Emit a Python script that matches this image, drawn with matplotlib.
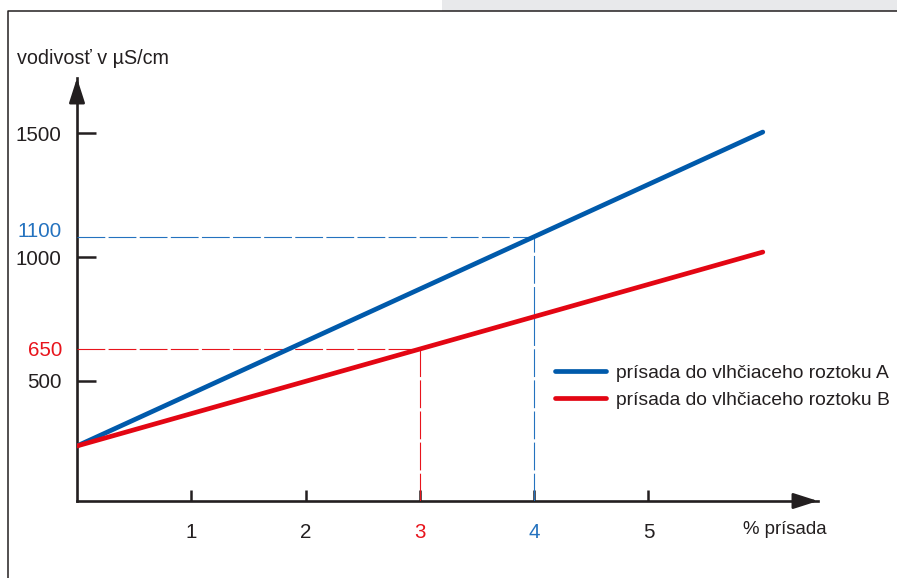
import numpy as np
import matplotlib.pyplot as plt
import matplotlib.patches as patches
import matplotlib.lines as mlines

plt.rcParams['font.family'] = ['Liberation Sans', 'DejaVu Sans']

# data
additive_pct = [0, 6]
series_a = [238, 1504]   # prísada do vlhčiaceho roztoku A
series_b = [238, 1020]   # prísada do vlhčiaceho roztoku B
series_names = ['prísada do vlhčiaceho roztoku A', 'prísada do vlhčiaceho roztoku B']

x_ticks = [1, 2, 3, 4, 5]
y_ticks = [500, 1000, 1500]

# marked readings: x position and the label shown on the y axis
mark_x = [4, 3]
mark_labels = ['1100', '650']

dark = '#231f20'
blue = '#005aab'
red = '#e30613'
blue_light = '#2472bf'
red_light = '#e8141c'

fig = plt.figure(figsize=(8.97, 5.78), dpi=100)

# page frame and grey strip
fig.add_artist(patches.Rectangle((442 / 897, 1 - 11 / 578), 1 - 442 / 897, 11 / 578,
                                 transform=fig.transFigure, facecolor='#e8e9eb',
                                 edgecolor='none'))
fig.add_artist(mlines.Line2D([8 / 897, 8 / 897, 1], [0, 1 - 11 / 578, 1 - 11 / 578],
                             transform=fig.transFigure, color=dark, lw=1.1))

ax = fig.add_axes([77 / 897, 77 / 578, 741 / 897, 423 / 578])
ax.set_xlim(0, 6.483)
ax.set_ylim(16, 1722)

for s in ['top', 'right']:
    ax.spines[s].set_visible(False)
for s in ['left', 'bottom']:
    ax.spines[s].set_color(dark)
    ax.spines[s].set_linewidth(1.9)

# arrow heads on the axes
for tip, tail in [((1, 0), (0.97, 0)), ((0, 1), (0, 0.96))]:
    ax.annotate('', xy=tip, xytext=tail, xycoords='axes fraction',
                arrowprops=dict(arrowstyle='-|>,head_length=0.75,head_width=0.24',
                                mutation_scale=20, color=dark, lw=1.9,
                                shrinkA=0, shrinkB=0), annotation_clip=False)

ax.set_xticks(x_ticks)
ax.set_xticklabels([str(t) for t in x_ticks])
ax.set_yticks(y_ticks)
ax.set_yticklabels([str(t) for t in y_ticks])
ax.tick_params(axis='y', direction='in', length=14, width=1.8, color=dark,
               labelsize=14.8, labelcolor=dark, pad=11)
ax.tick_params(axis='x', direction='in', length=8, width=1.8, color=dark,
               labelsize=14.8, labelcolor=dark, pad=16)

# colour the marked x tick labels
for lbl in ax.get_xticklabels():
    if lbl.get_text() == str(mark_x[0]):
        lbl.set_color(blue_light)
    elif lbl.get_text() == str(mark_x[1]):
        lbl.set_color(red_light)

# main lines
ax.plot(additive_pct, series_a, color=blue, lw=3.4, solid_capstyle='round',
        label=series_names[0], zorder=4)
ax.plot(additive_pct, series_b, color=red, lw=3.4, solid_capstyle='round',
        label=series_names[1], zorder=4)

# dashed reading guides
for series, xm, txt, col, dy in [(series_a, mark_x[0], mark_labels[0], blue_light, 22),
                                 (series_b, mark_x[1], mark_labels[1], red_light, -6)]:
    ym = np.interp(xm, additive_pct, series)
    ax.plot([0, xm], [ym, ym], color=col, lw=0.8, dashes=(25, 3), zorder=3)
    ax.plot([xm, xm], [16, ym], color=col, lw=0.8, dashes=(25, 3), zorder=3)
    ax.text(-0.13, ym + dy, txt, color=col, fontsize=14.8, ha='right', va='center',
            transform=ax.transData, clip_on=False)

# axis titles
fig.text(17 / 897, 1 - 58 / 578, 'vodivosť v µS/cm', fontsize=14.2, color=dark,
         ha='left', va='center')
fig.text(827 / 897, 1 - 530 / 578, '% prísada', fontsize=13.4, color=dark,
         ha='right', va='center')

leg = ax.legend(loc='upper left', bbox_to_anchor=(555 / 897, 1 - 364 / 578),
                bbox_transform=fig.transFigure, frameon=False, fontsize=13.9,
                handlelength=2.65, handletextpad=0.5, labelspacing=0.5,
                borderaxespad=0, borderpad=0)
for t in leg.get_texts():
    t.set_color(dark)
for h in leg.get_lines():
    h.set_solid_capstyle('round')

fig.savefig('out.png', dpi=100)
